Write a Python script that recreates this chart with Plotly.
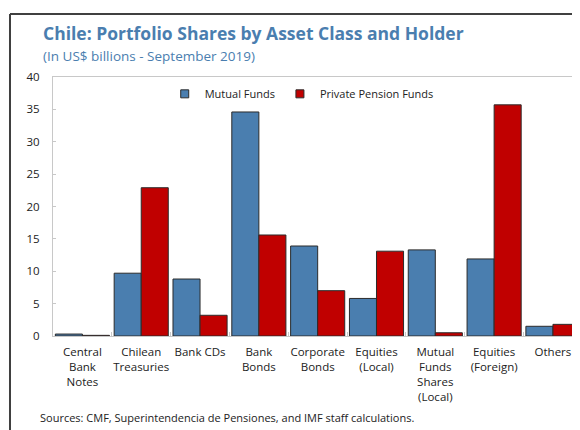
import plotly.graph_objects as go

categories = ["Central<br>Bank<br>Notes", "Chilean<br>Treasuries", "Bank CDs", "Bank<br>Bonds",
              "Corporate<br>Bonds", "Equities<br>(Local)", "Mutual<br>Funds<br>Shares<br>(Local)",
              "Equities<br>(Foreign)", "Others"]
mutual_funds = [0.3, 9.7, 8.8, 34.6, 13.9, 5.8, 13.3, 11.9, 1.5]
pension_funds = [0.1, 22.9, 3.2, 15.6, 7.0, 13.1, 0.5, 35.7, 1.8]
y_ticks = [0, 5, 10, 15, 20, 25, 30, 35, 40]

BLUE = "#4A7EAF"
RED = "#C00000"
FONT = "Open Sans"

fig = go.Figure()
fig.add_trace(go.Bar(x=categories, y=mutual_funds, name="Mutual Funds", marker=dict(color=BLUE, line=dict(color="#2b2b2b", width=1)), showlegend=False))
fig.add_trace(go.Bar(x=categories, y=pension_funds, name="Private Pension Funds", marker=dict(color=RED, line=dict(color="#2b2b2b", width=1)), showlegend=False))
# legend entries with small square symbols
fig.add_trace(go.Scatter(x=[None], y=[None], mode="markers", name="Mutual Funds",
                         marker=dict(symbol="square", size=8, color=BLUE, line=dict(color="#2b2b2b", width=1))))
fig.add_trace(go.Scatter(x=[None], y=[None], mode="markers", name="Private Pension Funds",
                         marker=dict(symbol="square", size=8, color=RED, line=dict(color="#2b2b2b", width=1))))

# page body has an 8px margin, so the figure is 8px smaller than the window
fig.update_layout(
    width=572, height=422,
    margin=dict(l=45, r=0, t=69, b=94),
    paper_bgcolor="white", plot_bgcolor="white",
    font=dict(family=FONT, size=11.5, color="#222222"),
    barmode="group", bargap=0.08, bargroupgap=0,
    showlegend=True,
    legend=dict(orientation="h", x=0.212, y=0.935, xanchor="left", yanchor="middle",
                itemwidth=30, font=dict(size=11, color="#222222"), bgcolor="rgba(0,0,0,0)",
                tracegroupgap=0, itemclick=False),
    xaxis=dict(range=[-0.5, 8.46], showline=True, linecolor="#C8C8C8", linewidth=1, mirror=True,
               ticks="inside", tickson="boundaries", ticklen=4, tickcolor="#C8C8C8",
               tickangle=0, automargin=False, ticklabelstandoff=5,
               tickfont=dict(size=11.5, color="#222222"), showgrid=False, zeroline=False),
    yaxis=dict(range=[0, 40], tickvals=y_ticks, showline=True, linecolor="#C8C8C8", linewidth=1,
               ticks="inside", ticklen=3, tickcolor="#C8C8C8", showgrid=False, zeroline=False,
               automargin=False,
               tickfont=dict(size=11.5, color="#222222"), ticklabelstandoff=10),
    shapes=[
        dict(type="line", xref="paper", yref="paper", x0=-0.0816, x1=1.05, y0=1.2432, y1=1.2432,
             line=dict(color="#404040", width=2)),
        dict(type="line", xref="paper", yref="paper", x0=-0.0816, x1=-0.0816, y0=1.2432, y1=-0.4,
             line=dict(color="#404040", width=2)),
    ],
    annotations=[
        dict(text="<b>Chile: Portfolio Shares by Asset Class and Holder</b>", xref="paper", yref="paper",
             x=(41 - 53) / 527, y=(336 - 33) / 259, xanchor="left", yanchor="middle", showarrow=False,
             font=dict(family=FONT, size=17.5, color=BLUE)),
        dict(text="(In US$ billions - September 2019)", xref="paper", yref="paper",
             x=(41 - 53) / 527, y=(336 - 56) / 259, xanchor="left", yanchor="middle", showarrow=False,
             font=dict(family=FONT, size=13.5, color=BLUE)),
        dict(text="Sources: CMF, Superintendencia de Pensiones, and IMF staff calculations.", xref="paper", yref="paper",
             x=(38 - 53) / 527, y=(336 - 417) / 259, xanchor="left", yanchor="middle", showarrow=False,
             font=dict(family=FONT, size=11, color="#222222")),
    ],
)

fig.write_html("out.html")
